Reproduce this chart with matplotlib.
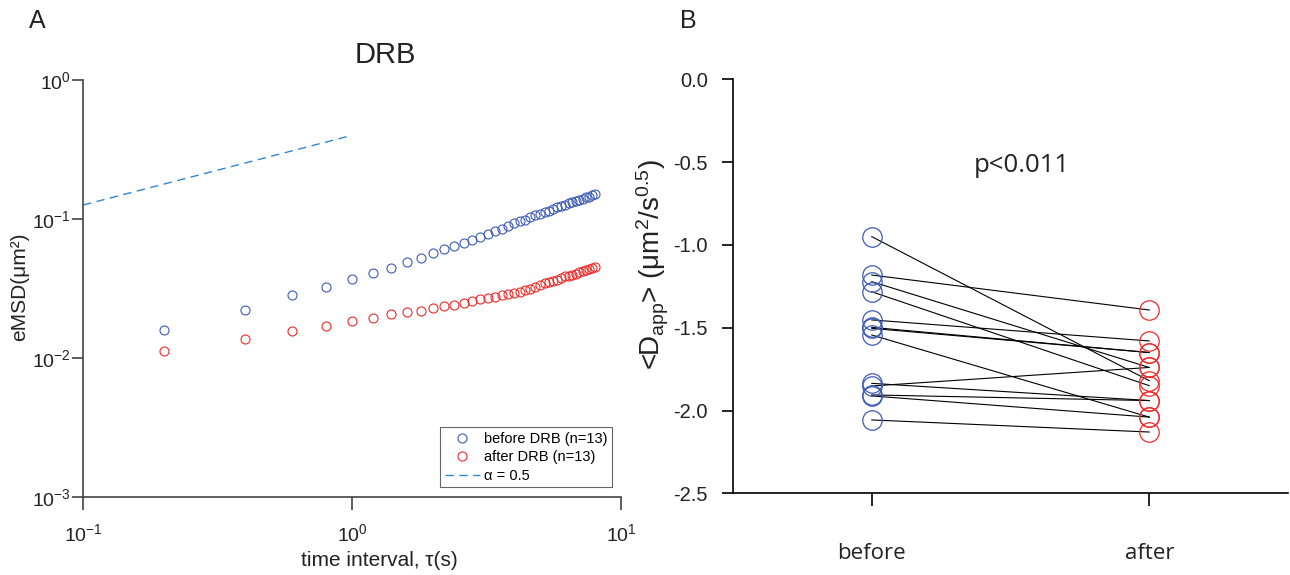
import matplotlib
matplotlib.use("Agg")
import matplotlib.pyplot as plt
from matplotlib.ticker import NullLocator

plt.rcParams['font.family'] = ['Liberation Sans', 'DejaVu Sans']
plt.rcParams['mathtext.fontset'] = 'custom'
plt.rcParams['mathtext.rm'] = 'Liberation Sans'
plt.rcParams['mathtext.it'] = 'Liberation Sans:italic'
plt.rcParams['mathtext.bf'] = 'Liberation Sans:bold'

# ---------------- data ----------------
tau = [0.2, 0.4, 0.6, 0.8, 1.0, 1.2, 1.4, 1.6, 1.8, 2.0,
       2.2, 2.4, 2.6, 2.8, 3.0, 3.2, 3.4, 3.6, 3.8, 4.0,
       4.2, 4.4, 4.6, 4.8, 5.0, 5.2, 5.4, 5.6, 5.8, 6.0,
       6.2, 6.4, 6.6, 6.8, 7.0, 7.2, 7.4, 7.6, 7.8, 8.0]
emsd_before = [0.0158, 0.0220, 0.0282, 0.0326, 0.0370, 0.0406, 0.0446, 0.0488, 0.0527, 0.0566,
               0.0605, 0.0640, 0.0676, 0.0710, 0.0746, 0.078, 0.082, 0.085, 0.089, 0.093,
               0.096, 0.099, 0.103, 0.106, 0.109, 0.112, 0.115, 0.118, 0.121, 0.124,
               0.127, 0.130, 0.133, 0.135, 0.137, 0.140, 0.143, 0.145, 0.148, 0.151]
emsd_after = [0.0112, 0.0138, 0.0157, 0.0170, 0.0185, 0.0195, 0.0206, 0.0213, 0.0219, 0.0228,
              0.0235, 0.0242, 0.0250, 0.0258, 0.0264, 0.0270, 0.0276, 0.0282, 0.0288, 0.0293,
              0.0299, 0.0306, 0.0314, 0.0324, 0.0336, 0.0347, 0.0354, 0.0360, 0.0367, 0.0377,
              0.0387, 0.0392, 0.0398, 0.0405, 0.0413, 0.0421, 0.0430, 0.0437, 0.0444, 0.0450]
alpha_tau = [0.1, 1.0]
alpha_msd = [0.126, 0.40]

dapp_before = [-0.950, -1.182, -1.222, -1.283, -1.453, -1.498, -1.504,
               -1.544, -1.836, -1.852, -1.906, -1.912, -2.057]
dapp_after = [-1.82, -1.393, -1.74, -1.85, -1.58, -1.65, -1.65,
              -2.04, -1.94, -1.74, -1.94, -2.04, -2.13]
groups = ['before', 'after']
yticks_right = [0.0, -0.5, -1.0, -1.5, -2.0, -2.5]
ytick_labels_right = ['0.0', '-0.5', '-1.0', '-1.5', '-2.0', '-2.5']

BLUE = '#3d5bb5'
RED = '#ee2b2b'
DASH = '#2f86d2'

W, H = 1290, 575
fig = plt.figure(figsize=(W / 100, H / 100), dpi=100)

def fx(px):
    return px / W

def fy(py):
    return 1 - py / H

# ---------------- panel A ----------------
ax1 = fig.add_axes([fx(83), fy(497), (621 - 83) / W, (497 - 80) / H])
ax1.set_xscale('log')
ax1.set_yscale('log')
ax1.plot(tau, emsd_before, 'o', mfc='none', mec=BLUE, ms=6.5, mew=0.8,
         label='before DRB (n=13)')
ax1.plot(tau, emsd_after, 'o', mfc='none', mec=RED, ms=6.5, mew=0.8,
         label='after DRB (n=13)')
ax1.plot(alpha_tau, alpha_msd, '--', color=DASH, lw=1.0, dashes=(6, 4),
         label='α = 0.5')
ax1.set_xlim(0.1, 10)
ax1.set_ylim(1e-3, 1)
ax1.xaxis.set_minor_locator(NullLocator())
ax1.yaxis.set_minor_locator(NullLocator())
ax1.set_xticks([0.1, 1, 10])
ax1.set_xticklabels(['$10^{-1}$', '$10^{0}$', '$10^{1}$'])
ax1.set_yticks([1e-3, 1e-2, 1e-1, 1])
ax1.set_yticklabels(['$10^{-3}$', '$10^{-2}$', '$10^{-1}$', '$10^{0}$'])
for s in ['top', 'right']:
    ax1.spines[s].set_visible(False)
for s in ['left', 'bottom']:
    ax1.spines[s].set_color('#444444')
    ax1.spines[s].set_linewidth(1.2)
ax1.tick_params(axis='y', direction='out', length=8, width=1.2, color='#444444',
                labelsize=14, pad=1, labelcolor='#222222')
ax1.tick_params(axis='x', direction='out', length=9, width=1.2, color='#444444',
                labelsize=14, pad=10, labelcolor='#222222')
leg = ax1.legend(loc='lower right', bbox_to_anchor=(0.983, 0.024), fontsize=10.5,
                 frameon=True, fancybox=False, edgecolor='#666666', framealpha=1,
                 handlelength=2.4, borderpad=0.3, labelspacing=0.3,
                 handletextpad=0.3, borderaxespad=0)
leg.get_frame().set_linewidth(0.8)

fig.text(fx(37), fy(21), 'A', fontsize=18, ha='center', va='center', color='#222222')
fig.text(fx(688), fy(21), 'B', fontsize=18, ha='center', va='center', color='#222222')
fig.text(fx(385), fy(55), 'DRB', fontsize=21, ha='center', va='center', color='#222222')
fig.text(fx(20), fy(287), 'eMSD(μm²)', fontsize=15, rotation=90,
         ha='center', va='center', color='#222222')
fig.text(fx(379), fy(560), 'time interval, τ(s)', fontsize=15,
         ha='center', va='center', color='#222222')

# ---------------- panel B ----------------
ax2 = fig.add_axes([fx(733), fy(493.3), (1288 - 733) / W, (493.3 - 79.3) / H])
xb, xa = 1, 2
for b, a in zip(dapp_before, dapp_after):
    ax2.plot([xb, xa], [b, a], color='black', lw=0.8)
ax2.plot([xb] * len(dapp_before), dapp_before, 'o', mfc='none', mec=BLUE,
         ms=14, mew=0.9)
ax2.plot([xa] * len(dapp_after), dapp_after, 'o', mfc='none', mec=RED,
         ms=14, mew=0.9)
ax2.set_xlim(0.5, 2.5)
ax2.set_ylim(-2.5, 0.0)
ax2.set_yticks(yticks_right)
ax2.set_yticklabels(ytick_labels_right)
ax2.set_xticks([xb, xa])
ax2.set_xticklabels(groups, fontfamily='Open Sans')
for s in ['top', 'right']:
    ax2.spines[s].set_visible(False)
for s in ['left', 'bottom']:
    ax2.spines[s].set_color('black')
    ax2.spines[s].set_linewidth(1.2)
ax2.tick_params(axis='y', direction='out', length=8, width=1.2,
                labelsize=14.5, pad=10, labelcolor='#222222')
ax2.tick_params(axis='x', direction='out', length=9.5, width=1.2,
                labelsize=16, pad=26, labelcolor='#222222')
ax2.text(1.54, -0.52, 'p<0.011', fontsize=18.5, fontfamily='Open Sans',
         ha='center', va='center', color='#222222')
fig.text(fx(653), fy(265), '<D$_{\\rm app}$> (μm$^{2}$/s$^{0.5}$)', fontsize=20,
         rotation=90, ha='center', va='center', color='#222222')

fig.savefig('out.png', dpi=100)
